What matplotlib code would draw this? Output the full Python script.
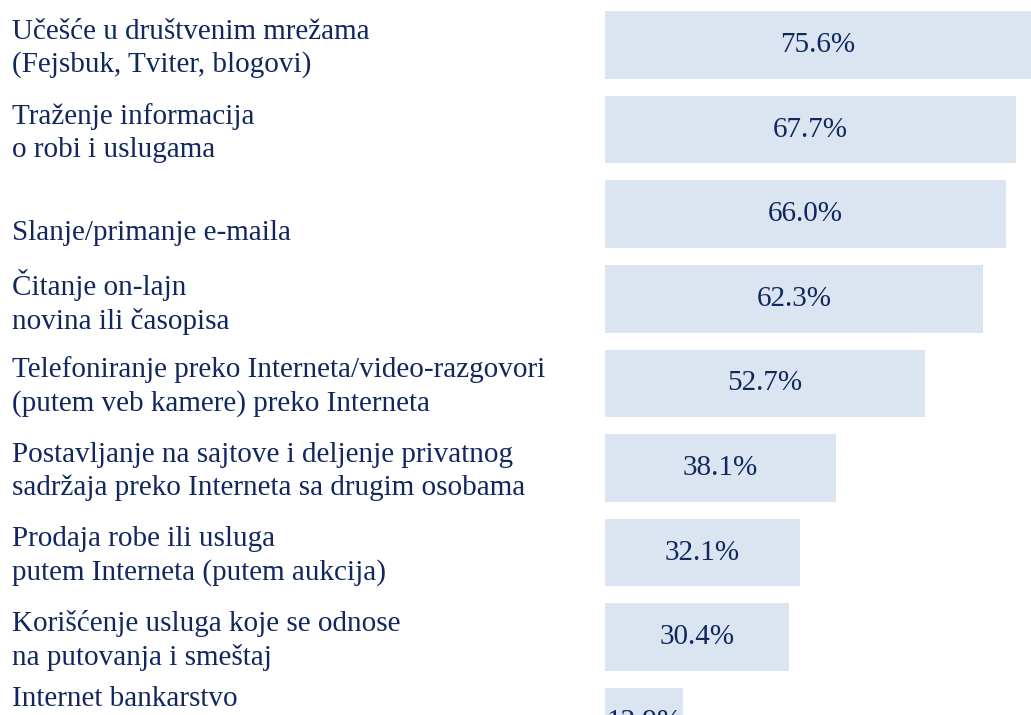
import matplotlib
matplotlib.use("Agg")
import matplotlib.pyplot as plt
import matplotlib.transforms as mtransforms

# categories (top to bottom) and shares in percent
categories = [
    "Učešće u društvenim mrežama\n(Fejsbuk, Tviter, blogovi)",
    "Traženje informacija\no robi i uslugama",
    "Slanje/primanje e-maila",
    "Čitanje on-lajn\nnovina ili časopisa",
    "Telefoniranje preko Interneta/video-razgovori\n(putem veb kamere) preko Interneta",
    "Postavljanje na sajtove i deljenje privatnog\nsadržaja preko Interneta sa drugim osobama",
    "Prodaja robe ili usluga\nputem Interneta (putem aukcija)",
    "Korišćenje usluga koje se odnose\nna putovanja i smeštaj",
    "Internet bankarstvo",
]
values = [75.6, 67.7, 66.0, 62.3, 52.7, 38.1, 32.1, 30.4, 12.9]

# vertical nudge of the left labels (in bar units), layout only
label_shift = [0.04, 0.04, 0.22, 0.04, 0.04, 0.04, 0.04, 0.04, -0.27]

bar_color = "#DBE5F1"
text_color = "#11275E"
font = "Liberation Serif"

W, H = 1031, 715
fig = plt.figure(figsize=(W / 100, H / 100), dpi=100)
ax = fig.add_axes([605 / W, 0, 1 - 605 / W, 1])

pos = list(range(len(values)))
ax.barh(pos, values, height=0.8, color=bar_color)
xmax = 70.2
ax.set_xlim(0, xmax)
ax.set_ylim(7.92, -0.532)
ax.axis("off")

for p, v in zip(pos, values):
    ax.text(min(v, xmax) / 2, p, f"{v:.1f}%", ha="center", va="center",
            fontsize=21, family=font, color=text_color, clip_on=False)

trans = mtransforms.blended_transform_factory(fig.transFigure, ax.transData)
for p, c, s in zip(pos, categories, label_shift):
    ax.text(12 / W, p + s, c, transform=trans, ha="left", va="center",
            fontsize=21, family=font, color=text_color, linespacing=1.33)

fig.savefig("out.png", dpi=100)
